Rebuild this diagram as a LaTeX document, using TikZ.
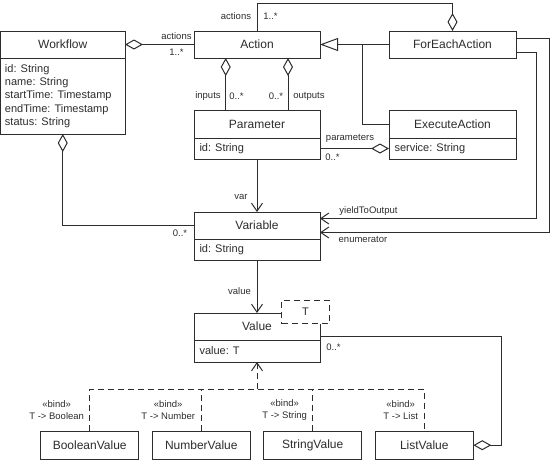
\documentclass[tikz,border=0pt]{standalone}
\usepackage{fontspec}
\setmainfont{Liberation Sans}
\usetikzlibrary{arrows.meta}
\definecolor{ink}{RGB}{45,45,45}
\begin{document}
\begin{tikzpicture}[x=1pt,y=-1pt,line width=1pt,color=ink]
\tikzset{
 umlbox/.style={draw, fill=white, inner sep=0pt, outer sep=0pt, font=\fontsize{12}{14}\selectfont},
 attrs/.style={anchor=west, align=left, inner sep=0pt, font=\fontsize{11}{13.3}\selectfont},
 lbl/.style={inner sep=0pt, font=\fontsize{9.5}{12}\selectfont},
 bindlbl/.style={lbl, anchor=east, align=center},
 agg/.style={{Diamond[open,length=18pt,width=10pt]}-},
 nav/.style={-{Straight Barb[length=8pt,width=11pt]}},
 gen/.style={{Triangle[open,length=18pt,width=13pt]}-},
 dsh/.style={dash pattern=on 6pt off 4pt},
}
\useasboundingbox (0,0) rectangle (550,474);
% helper coordinates
\coordinate (top) at (0,3);
\coordinate (r1) at (549,0);
\coordinate (r2) at (536,0);
\coordinate (gx) at (362,0);
\coordinate (jy) at (0,389.3);
\coordinate (lx) at (501,0);
% classes
\node[umlbox, minimum width=124.5pt, minimum height=27pt] (wf) at (62.75,44.5) {Workflow};
\node[umlbox, minimum width=124.5pt, minimum height=76pt, anchor=north] (wfb) at (wf.south) {};
\node[attrs] at ([xshift=4pt]wfb.west) {id: String\\name: String\\startTime: Timestamp\\endTime: Timestamp\\status: String};
\node[umlbox, minimum width=126pt, minimum height=27pt] (act) at (257,44.5) {Action};
\node[umlbox, minimum width=127pt, minimum height=27pt] (fe) at (452.5,44.5) {ForEachAction};
\node[umlbox, minimum width=126pt, minimum height=27.5pt] (par) at (257,124.25) {Parameter};
\node[umlbox, minimum width=126pt, minimum height=21pt, anchor=north] (parb) at (par.south) {};
\node[attrs] at ([xshift=5pt]parb.west) {id: String};
\node[umlbox, minimum width=127pt, minimum height=27.5pt] (ex) at (452.5,124.25) {ExecuteAction};
\node[umlbox, minimum width=127pt, minimum height=21pt, anchor=north] (exb) at (ex.south) {};
\node[attrs] at ([xshift=5pt]exb.west) {service: String};
\node[umlbox, minimum width=126pt, minimum height=27pt] (var) at (257,225.5) {Variable};
\node[umlbox, minimum width=126pt, minimum height=21pt, anchor=north] (varb) at (var.south) {};
\node[attrs] at ([xshift=5pt]varb.west) {id: String};
\node[umlbox, minimum width=126pt, minimum height=27pt] (val) at (257,326.5) {Value};
\node[umlbox, minimum width=126pt, minimum height=22pt, anchor=north] (valb) at (val.south) {};
\node[attrs] at ([xshift=5pt]valb.west) {value: T};
\node[umlbox, dsh, minimum width=47.5pt, minimum height=23.5pt, font=\fontsize{11}{13}\selectfont] (tp) at (305.5,312) {T};
\node[umlbox, minimum width=98pt, minimum height=28.3pt] (bv) at (89.7,445.2) {BooleanValue};
\node[umlbox, minimum width=98pt, minimum height=28.3pt] (nv) at (201.3,445.2) {NumberValue};
\node[umlbox, minimum width=98pt, minimum height=28.3pt] (sv) at (312.7,445.2) {StringValue};
\node[umlbox, minimum width=98pt, minimum height=28.3pt] (lv) at (424.3,445.2) {ListValue};
% connectors
\draw[agg] (wf.east) -- (act.west);
\node[lbl] at (176.5,36) {actions};
\node[lbl] at (176.5,52) {1..*};
\draw[agg] (fe.north) -- (fe.north |- top) -- (act.north |- top) -- (act.north);
\node[lbl] at (236,16) {actions};
\node[lbl] at (270.5,16) {1..*};
\draw[gen] (act.east) -- (fe.west);
\draw (gx |- act.east) |- (ex.west);
\draw[agg] ([xshift=-31.3pt]act.south) -- ([xshift=-31.3pt]par.north);
\node[lbl] at (208,96) {inputs};
\node[lbl] at (236.5,96) {0..*};
\draw[agg] ([xshift=31pt]act.south) -- ([xshift=31pt]par.north);
\node[lbl] at (276,96) {0..*};
\node[lbl] at (309,96) {outputs};
\draw[agg] (exb.west) -- (exb.west -| parb.east);
\node[lbl] at (350,138) {parameters};
\node[lbl] at (332.5,157) {0..*};
\draw[nav] (parb.south) -- (var.north);
\node[lbl] at (241,197) {var};
\draw[agg] (wfb.south) |- (var.west);
\node[lbl] at (180,233) {0..*};
\draw[nav] ([yshift=6.5pt]fe.east) -- ([yshift=6.5pt]fe.east -| r1) -- ([yshift=-7pt]var.east -| r1) -- ([yshift=-7pt]var.east);
\draw[nav] ([yshift=-7.5pt]fe.east) -- ([yshift=-7.5pt]fe.east -| r2) -- ([yshift=7pt]var.east -| r2) -- ([yshift=7pt]var.east);
\node[lbl] at (368.5,211) {yieldToOutput};
\node[lbl] at (363,239) {enumerator};
\draw[nav] (varb.south) -- (val.north);
\node[lbl] at (239.5,291) {value};
\draw[agg] (lv.east) -- (lv.east -| lx) |- ([yshift=-10pt]val.east);
\node[lbl] at (333.5,347) {0..*};
% realizations
\draw[dsh] (bv.north) -- (bv.north |- jy) -- (lv.north |- jy) -- (lv.north);
\draw[dsh] (nv.north) -- (nv.north |- jy);
\draw[dsh] (sv.north) -- (sv.north |- jy);
\draw[dsh, nav] (valb.south |- jy) -- (valb.south);
\node[bindlbl] at (84.5,410) {«bind»\\T -> Boolean};
\node[bindlbl] at (195.5,410) {«bind»\\T -> Number};
\node[bindlbl] at (307.5,410) {«bind»\\T -> String};
\node[bindlbl] at (418.5,410) {«bind»\\T -> List};
\end{tikzpicture}
\end{document}
